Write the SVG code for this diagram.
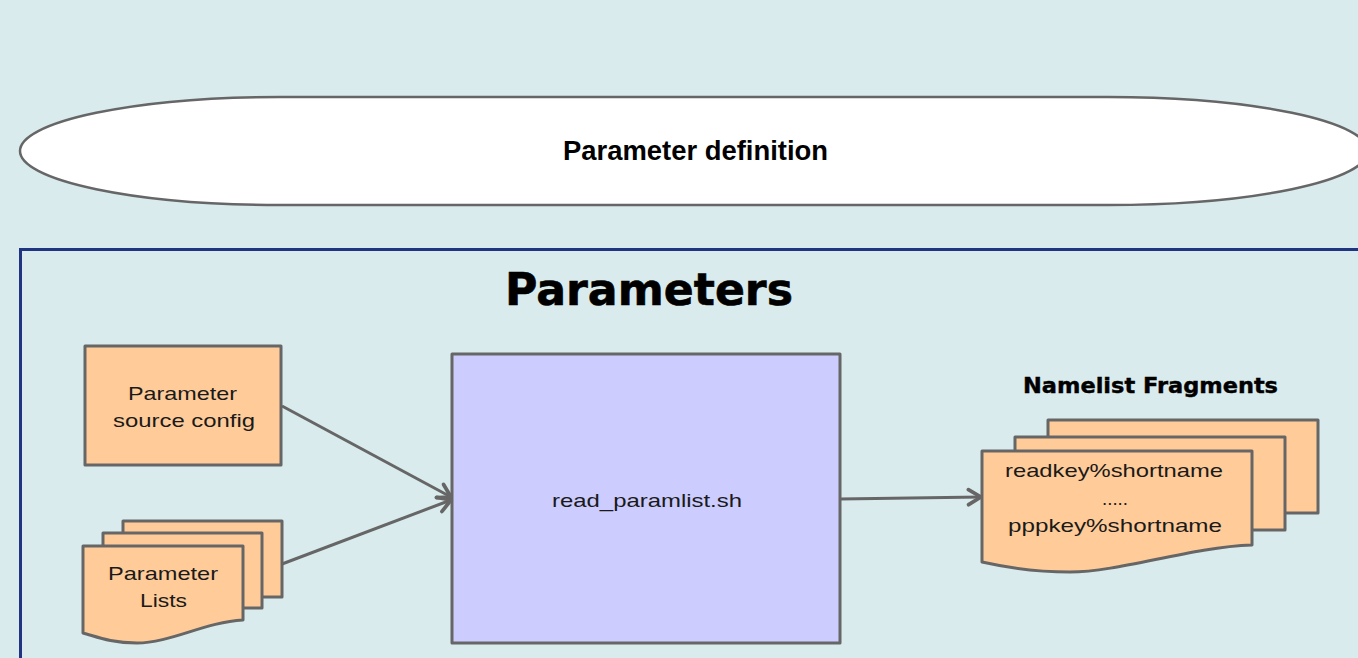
<svg xmlns="http://www.w3.org/2000/svg" width="1358" height="658" viewBox="0 0 1358 658">
<style>
.shape{stroke:#666666;stroke-width:3;stroke-linejoin:round}
.orange{fill:#ffcc99}
.txt{font-family:"Liberation Sans",Arial,sans-serif;font-size:19px;fill:#1a1a1a;text-anchor:middle}
.conn{stroke:#666666;stroke-width:3;fill:none}
</style>
<defs>
<marker id="arrow" markerUnits="userSpaceOnUse" markerWidth="20" markerHeight="20" viewBox="-12 -8 14 16" refX="0" refY="0" orient="auto">
<path d="M-10,-6 L0,0 L-10,6" fill="none" stroke="#666666" stroke-width="3" stroke-linecap="round" stroke-linejoin="round"/>
</marker>
</defs>
<rect width="1358" height="658" fill="#d9ebed"/>
<g id="param-definition">
<path d="M280,97 L1108,97 A260,54 0 0 1 1108,205 L280,205 A260,54 0 0 1 280,97 Z" fill="#ffffff" stroke="#666666" stroke-width="2.5"/>
<text x="695.5" y="160" font-family="'Liberation Sans',Arial,sans-serif" font-weight="bold" font-size="27" text-anchor="middle" textLength="265" lengthAdjust="spacingAndGlyphs" fill="#000">Parameter definition</text>
</g>
<g id="parameters-frame">
<rect x="20.5" y="249.5" width="1400" height="500" fill="none" stroke="#1f3582" stroke-width="3"/>
<text x="649" y="305" font-family="'DejaVu Sans',Verdana,sans-serif" font-weight="bold" font-size="45" text-anchor="middle" textLength="288" lengthAdjust="spacingAndGlyphs" fill="#000" stroke="#000" stroke-width="0.6">Parameters</text>
</g>
<g id="param-source-config">
<rect class="shape orange" x="85" y="346" width="196" height="119"/>
<text class="txt" x="182.5" y="400" textLength="109" lengthAdjust="spacingAndGlyphs">Parameter</text>
<text class="txt" x="184" y="427" textLength="142" lengthAdjust="spacingAndGlyphs">source config</text>
</g>
<g id="param-lists">
<rect class="shape orange" x="123" y="521" width="159" height="76"/>
<rect class="shape orange" x="103" y="533" width="159" height="75"/>
<path class="shape orange" d="M83,546 L243,546 L243,620 C205,622 170,643 137,643 C110,643 95,636 83,633 Z"/>
<text class="txt" x="163" y="580" textLength="110" lengthAdjust="spacingAndGlyphs">Parameter</text>
<text class="txt" x="163.5" y="607" textLength="47" lengthAdjust="spacingAndGlyphs">Lists</text>
</g>
<g id="read-paramlist">
<rect class="shape" x="452" y="354" width="388" height="289" fill="#ccccff"/>
<text class="txt" x="647" y="507" textLength="190" lengthAdjust="spacingAndGlyphs">read_paramlist.sh</text>
</g>
<g id="namelist-fragments">
<text x="1150.5" y="393" font-family="'DejaVu Sans',Verdana,sans-serif" font-weight="bold" font-size="21" text-anchor="middle" textLength="255" lengthAdjust="spacingAndGlyphs" fill="#000" stroke="#000" stroke-width="0.4">Namelist Fragments</text>
<rect class="shape orange" x="1048" y="420" width="270" height="93"/>
<rect class="shape orange" x="1015" y="437" width="270" height="93"/>
<path class="shape orange" d="M982,451 L1252,451 L1252,545 C1190,547 1120,572 1070,572 C1030,572 1000,566 982,562 Z"/>
<text class="txt" x="1114" y="477" textLength="218" lengthAdjust="spacingAndGlyphs">readkey%shortname</text>
<text class="txt" x="1115" y="505" textLength="26" lengthAdjust="spacingAndGlyphs">.....</text>
<text class="txt" x="1115" y="532" textLength="214" lengthAdjust="spacingAndGlyphs">pppkey%shortname</text>
</g>
<g id="connectors">
<line class="conn" x1="282" y1="406" x2="451" y2="497" marker-end="url(#arrow)"/>
<line class="conn" x1="282" y1="564" x2="451" y2="500" marker-end="url(#arrow)"/>
<line class="conn" x1="840" y1="499" x2="981" y2="497" marker-end="url(#arrow)"/>
</g>
</svg>
